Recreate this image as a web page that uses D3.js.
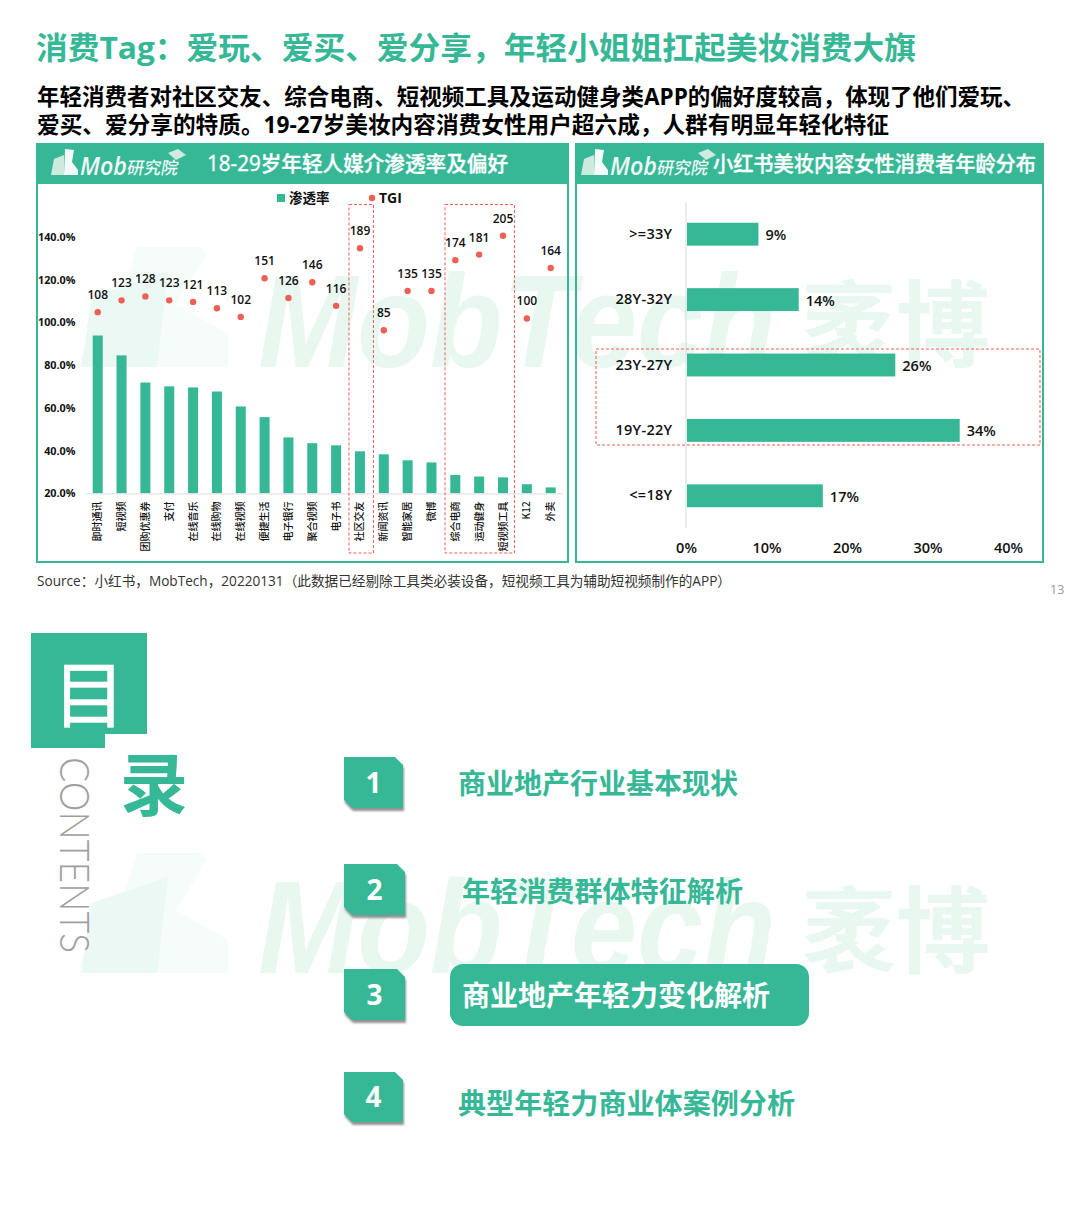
<!DOCTYPE html>
<html>
<head>
<meta charset="utf-8">
<script src="https://cdn.jsdelivr.net/npm/d3@7"></script>
<style>
  html, body { margin: 0; padding: 0; background: #fff; }
  svg { display: block; }
  text { font-family: "Open Sans", "Noto Sans CJK SC", sans-serif; }
</style>
</head>
<body>
<svg id="page" width="1080" height="1218"></svg>
<script>
// values
var categories = ["即时通讯", "短视频", "团购优惠券", "支付", "在线音乐", "在线购物", "在线视频", "便捷生活", "电子银行", "聚合视频",
  "电子书", "社区交友", "新闻资讯", "智能家居", "微博", "综合电商", "运动健身", "短视频工具", "K12", "外卖"];
var penetration = [93.9, 84.6, 71.9, 70.1, 69.6, 67.7, 60.7, 55.7, 46.2, 43.5,
  42.5, 39.7, 38.3, 35.5, 34.5, 28.6, 27.9, 27.5, 24.3, 22.8];
var tgi = [108, 123, 128, 123, 121, 113, 102, 151, 126, 146,
  116, 189, 85, 135, 135, 174, 181, 205, 100, 164];
var percentTicks = [20, 40, 60, 80, 100, 120, 140];

var ageGroups = [">=33Y", "28Y-32Y", "23Y-27Y", "19Y-22Y", "<=18Y"];
var ageShare = [9, 14, 26, 34, 17];
var shareTicks = [0, 10, 20, 30, 40];

var contents = ["商业地产行业基本现状", "年轻消费群体特征解析", "商业地产年轻力变化解析", "典型年轻力商业体案例分析"];

var green = "#36b897", red = "#ee5f55", wash = "#e9f7f1";
var cjk = '"Noto Sans CJK SC", sans-serif';
var svg = d3.select("#page");

var defs = svg.append("defs");
defs.append("filter").attr("id", "soft").append("feGaussianBlur").attr("stdDeviation", 1.2);

function label(g, str, x, y, size, color, opts) {
  opts = opts || {};
  var t = g.append("text").attr("x", x).attr("y", y)
    .attr("font-size", size).attr("fill", color)
    .attr("font-weight", opts.weight || 700)
    .attr("text-anchor", opts.anchor || "start")
    .text(str);
  if (opts.family) t.style("font-family", opts.family);
  if (opts.width) t.attr("textLength", opts.width).attr("lengthAdjust", "spacingAndGlyphs");
  return t;
}

// MobTech 袤博 watermark, appears twice
function watermark(top) {
  var g = svg.append("g").attr("transform", "translate(0," + top + ")");
  g.append("path").attr("fill", "#f6fcfa").attr("d", "M81 94 L92 24 L125 12 L137 -26 L200 -26 L207 -19 L176 31 L228 61 L228 94 Z");
  g.append("path").attr("fill", "#ecf8f3").attr("d", "M81 94 L92 24 L168 -2 L157 94 Z");
  label(g, "MobTech", 258, 94, 132, wash, { width: 518, family: '"Liberation Sans", sans-serif' }).attr("font-style", "italic");
  label(g, "袤博", 802, 87, 94, wash, { family: cjk });
}
watermark(273);
watermark(879);

// page heading
label(svg, "消费Tag：爱玩、爱买、爱分享，年轻小姐姐扛起美妆消费大旗", 36, 59, 31, green, { width: 880 });
label(svg, "年轻消费者对社区交友、综合电商、短视频工具及运动健身类APP的偏好度较高，体现了他们爱玩、", 37, 105, 22.5, "#000", { width: 988 });
label(svg, "爱买、爱分享的特质。19-27岁美妆内容消费女性用户超六成，人群有明显年轻化特征", 37, 133, 22.5, "#000", { width: 852 });

function panel(x, w, logoX, title, titleX, titleW) {
  var g = svg.append("g");
  g.append("rect").attr("x", x).attr("y", 144).attr("width", w).attr("height", 418)
    .attr("fill", "none").attr("stroke", green).attr("stroke-width", 2);
  g.append("rect").attr("x", x).attr("y", 144).attr("width", w).attr("height", 40).attr("fill", green);
  var logo = g.append("g").attr("transform", "translate(" + logoX + ",0)");
  logo.append("path").attr("fill", "#cdeade").attr("d", "M0 175 L3 159 L13 155 L13 175 Z");
  logo.append("path").attr("fill", "#f4fbf8").attr("d", "M13 175 L14 149 L23 150 L21 162 L27 170 L27 175 Z");
  label(logo, "Mob", 29, 175, 25, "#eef9f5", { weight: 600, width: 47 }).attr("font-style", "italic");
  label(logo, "研究院", 76, 174, 17, "#eef9f5", { family: cjk, weight: 500 })
    .attr("transform", "translate(30,0) skewX(-10)");
  logo.append("path").attr("fill", "#cfeadf").attr("d", "M117 153 L127 149 L135 155 L125 160 Z");
  label(g, title, titleX, 171, 21, "#fff", { width: titleW, weight: 500 })
    .attr("stroke", "#fff").attr("stroke-width", 0.35);
}
panel(37, 531, 51, "18-29岁年轻人媒介渗透率及偏好", 207, 301);
panel(576, 467, 581, "小红书美妆内容女性消费者年龄分布", 713, 323);

// left chart: bars + TGI dots
var x = d3.scaleBand().domain(categories).range([85.8, 562.6]).paddingInner(0.58).paddingOuter(0.29);
var y = d3.scaleLinear().domain([20, 140]).range([493.4, 237]);
var yTgi = d3.scaleLinear().domain([85, 205]).range([330.3, 235.7]);

var yAxis = svg.append("g").attr("transform", "translate(78.5,0)")
  .call(d3.axisLeft(y).tickValues(percentTicks).tickSize(0).tickFormat(function (d) { return d.toFixed(1) + "%"; }));
yAxis.select(".domain").remove();
yAxis.selectAll("text").attr("font-size", 10.8).attr("font-weight", 700).attr("fill", "#111")
  .style("font-family", '"Open Sans", sans-serif');

svg.append("g").selectAll("rect").data(categories).join("rect")
  .attr("x", function (d) { return x(d); })
  .attr("width", x.bandwidth())
  .attr("y", function (d, i) { return y(penetration[i]); })
  .attr("height", function (d, i) { return y(20) - y(penetration[i]); })
  .attr("fill", green);

var xAxis = svg.append("g").attr("transform", "translate(0," + y(20) + ")")
  .call(d3.axisBottom(x).tickSize(0));
xAxis.select(".domain").attr("stroke", "#e4e4e4").attr("stroke-width", 1.2);
xAxis.selectAll("text")
  .attr("transform", "rotate(-90)")
  .attr("x", -8).attr("y", 0).attr("dy", "0.35em")
  .attr("text-anchor", "end")
  .attr("font-size", 10).attr("font-weight", 500).attr("fill", "#111")
  .style("font-family", cjk);

svg.append("g").selectAll("circle").data(categories).join("circle")
  .attr("cx", function (d) { return x(d) + x.bandwidth() / 2; })
  .attr("cy", function (d, i) { return yTgi(tgi[i]); })
  .attr("r", 3.2).attr("fill", red);
svg.append("g").selectAll("text").data(categories).join("text")
  .attr("x", function (d) { return x(d) + x.bandwidth() / 2; })
  .attr("y", function (d, i) { return yTgi(tgi[i]) - 13; })
  .attr("text-anchor", "middle").attr("font-size", 12).attr("font-weight", 600).attr("fill", "#111")
  .text(function (d, i) { return tgi[i]; });

// legend
svg.append("rect").attr("x", 277).attr("y", 194).attr("width", 8).attr("height", 8).attr("fill", green);
label(svg, "渗透率", 289, 203, 13.5, "#111", { family: cjk });
svg.append("circle").attr("cx", 372).attr("cy", 198).attr("r", 3.2).attr("fill", red);
label(svg, "TGI", 379, 203, 14, "#111");

function dashed(x0, y0, x1, y1) {
  svg.append("rect").attr("x", x0).attr("y", y0).attr("width", x1 - x0).attr("height", y1 - y0)
    .attr("fill", "none").attr("stroke", red).attr("stroke-width", 1).attr("stroke-dasharray", "3 2");
}
dashed(x("社区交友") - 6, 204.5, x("社区交友") + x.bandwidth() + 8.5, 553);
dashed(x("综合电商") - 5.3, 204.5, x("短视频工具") + x.bandwidth() + 6.4, 553);

// right chart: age split
var xShare = d3.scaleLinear().domain([0, 40]).range([686, 1008]);
var yAge = d3.scaleBand().domain(ageGroups).range([201.5, 528.5]).paddingInner(0.65).paddingOuter(0.325);

svg.append("line").attr("x1", xShare(0)).attr("x2", xShare(0)).attr("y1", 202).attr("y2", 528)
  .attr("stroke", "#dfdfdf").attr("stroke-width", 1.2);
svg.append("g").selectAll("rect").data(ageGroups).join("rect")
  .attr("x", xShare(0) + 1)
  .attr("y", function (d) { return yAge(d); })
  .attr("height", yAge.bandwidth())
  .attr("width", function (d, i) { return xShare(ageShare[i]) - xShare(0) - 1; })
  .attr("fill", green);
svg.append("g").selectAll("text").data(ageGroups).join("text")
  .attr("x", function (d, i) { return xShare(ageShare[i]) + 7; })
  .attr("y", function (d) { return yAge(d) + yAge.bandwidth() / 2 + 6; })
  .attr("font-size", 14.5).attr("font-weight", 600).attr("fill", "#111")
  .text(function (d, i) { return ageShare[i] + "%"; });

var ageAxis = svg.append("g").attr("transform", "translate(672.5,0)")
  .call(d3.axisLeft(yAge).tickSize(0).tickPadding(0));
ageAxis.select(".domain").remove();
ageAxis.selectAll("text").attr("font-size", 14.5).attr("font-weight", 600).attr("fill", "#111")
  .attr("letter-spacing", 0.3);

var shareAxis = svg.append("g").attr("transform", "translate(0,539)")
  .call(d3.axisBottom(xShare).tickValues(shareTicks).tickSize(0).tickPadding(4).tickFormat(function (d) { return d + "%"; }));
shareAxis.select(".domain").remove();
shareAxis.selectAll("text").attr("font-size", 14.5).attr("font-weight", 600).attr("fill", "#111");

dashed(596, 349, 1040, 445);

// footer of the slide
label(svg, "Source：小红书，MobTech，20220131（此数据已经剔除工具类必装设备，短视频工具为辅助短视频制作的APP）", 37, 586, 14, "#333", { weight: 400, width: 694 });
label(svg, "13", 1050, 594, 12.5, "#999", { weight: 400 });

// contents slide
svg.append("path").attr("fill", green).attr("d", "M31 633 H147 V734 H105 V748 H31 Z");
label(svg, "目", 89, 721, 72, "#fff", { family: cjk, weight: 400, anchor: "middle" })
  .attr("stroke", "#fff").attr("stroke-width", 0.6);
label(svg, "录", 120, 810, 68, green, { family: cjk, weight: 700 });
svg.append("text").attr("transform", "translate(60,757) rotate(90)")
  .attr("font-size", 42).attr("font-weight", 300).attr("fill", "#9f9f9f")
  .attr("textLength", 196).attr("lengthAdjust", "spacingAndGlyphs")
  .style("font-family", "Lato, sans-serif").text("CONTENTS");

var tileBox = [[344, 403, 757, 808], [344, 405, 864, 915], [344, 405, 969, 1020], [344, 403, 1072, 1122]];
var textBox = [[458, 794, 280], [462, 902, 281], [462, 1006, 308], [458, 1114, 337]];

svg.append("rect").attr("x", 450).attr("y", 964).attr("width", 359).attr("height", 62).attr("rx", 13).attr("fill", green);

contents.forEach(function (str, i) {
  var b = tileBox[i], t = textBox[i];
  var d = "M" + b[0] + " " + b[2] + " H" + (b[1] - 8) + " L" + b[1] + " " + (b[2] + 8) +
    " V" + b[3] + " H" + (b[0] + 8) + " L" + b[0] + " " + (b[3] - 8) + " Z";
  svg.append("path").attr("d", d).attr("fill", "#666").attr("opacity", 0.7)
    .attr("filter", "url(#soft)").attr("transform", "translate(1,3)");
  svg.append("path").attr("d", d).attr("fill", green);
  label(svg, String(i + 1), (b[0] + b[1]) / 2, (b[2] + b[3]) / 2 + 10, 28, "#fff", { anchor: "middle" });
  label(svg, str, t[0], t[1], 28, i === 2 ? "#fff" : green, { family: cjk, width: t[2] });
});
</script>
</body>
</html>
